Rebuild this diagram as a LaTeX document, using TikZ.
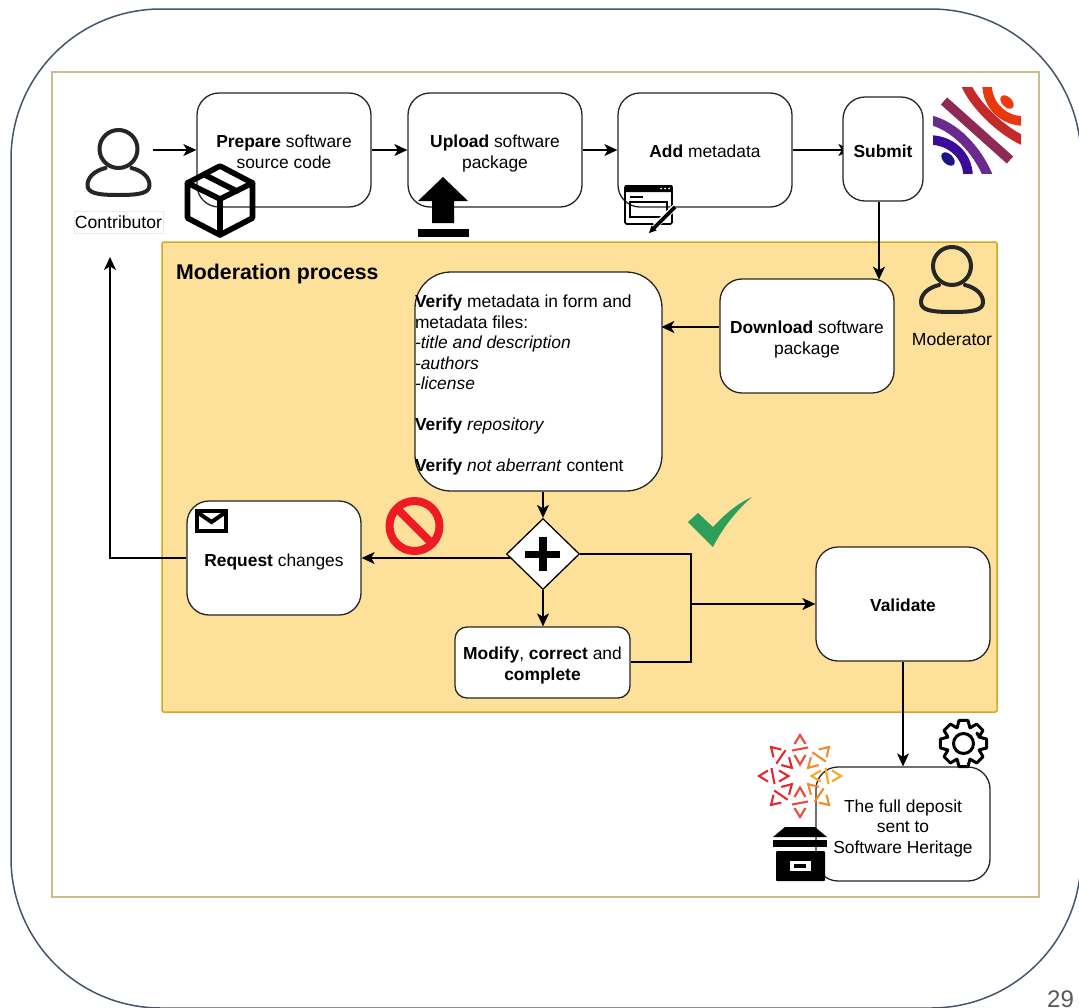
\documentclass[tikz,border=0pt]{standalone}
\usepackage{fontspec}
\setmainfont{Liberation Sans}
\usetikzlibrary{arrows.meta,shapes.geometric}
\pgfdeclarelayer{bg}
\pgfsetlayers{bg,main}
\definecolor{panelfill}{HTML}{FDE19A}
\definecolor{paneledge}{HTML}{D9A521}
\definecolor{frameedge}{HTML}{CDBB8F}
\definecolor{outeredge}{HTML}{44546A}
\definecolor{okgreen}{HTML}{2E9E5B}
\definecolor{nored}{HTML}{ED1C24}
\tikzset{
  box/.style={draw=black!85,fill=white,line width=1.3pt,rounded corners=22pt,inner sep=0pt,align=center,
    font=\fontsize{17.4}{20.5}\selectfont},
  conn/.style={draw=black,line width=1.3pt,-{Stealth[length=13pt,width=12pt,inset=3.5pt]}},
  line/.style={draw=black,line width=1.3pt},
  icon/.style={draw=black,line width=4pt,line join=round,line cap=round},
  chev/.style={line width=2.1pt},
  lbl/.style={inner sep=0pt,font=\fontsize{17.6}{20}\selectfont},
}
% a taller first line moves the text of a box down without moving its border
\newcommand{\drp}[1]{\rule{0pt}{#1pt}}
\newcommand{\personicon}[3]{%
  \begin{scope}[shift={(#1,#2)}]
    \draw[icon,black!85] (-13,19) .. controls (-25,22) and (-31,29) .. (-31,36) .. controls (-31,44) and (-22,46) .. (0,46)
       .. controls (22,46) and (31,44) .. (31,36) .. controls (31,29) and (25,22) .. (13,19);
    \draw[icon,black!85,fill=#3] (0,0) circle [radius=19];
  \end{scope}}
\begin{document}
\begin{tikzpicture}[x=1pt,y=-1pt]
\useasboundingbox (0,0) rectangle (1079,1007);
% process boxes
\node[box,minimum width=174pt,minimum height=114pt] (prep) at (284,150) {\drp{16}\textbf{Prepare} software\\source code};
\node[box,minimum width=174pt,minimum height=114pt] (upl) at (495,150) {\drp{20}\textbf{Upload} software\\package};
\node[box,minimum width=174pt,minimum height=114pt] (add) at (705,150) {\drp{16}\textbf{Add} metadata};
\node[box,minimum width=80pt,minimum height=104pt] (sub) at (883,149) {\drp{18}\textbf{Submit}};
\node[box,minimum width=174pt,minimum height=114pt] (down) at (807,336) {\drp{20}\textbf{Download} software\\package};
\node[box,rounded corners=36pt,minimum width=247pt,minimum height=219pt,text width=247pt,align=flush left] (ver) at (538.5,381.5) {%
\drp{20}\textbf{Verify} metadata in form and\\metadata files:\\\textit{-title and description}\\\textit{-authors}\\\textit{-license}\\[20.5pt]\textbf{Verify} \textit{repository}\\[20.5pt]\textbf{Verify} \textit{not aberrant} content};
\node[diamond,draw=black,fill=white,line width=1.3pt,inner sep=0pt,minimum width=73pt,minimum height=71pt] (dia) at (543,554) {};
\node[box,minimum width=174pt,minimum height=114pt] (req) at (274,558) {\drp{20}\textbf{Request} changes};
\node[box,rounded corners=12pt,minimum width=175pt,minimum height=71pt] (mod) at (542.5,662.5) {\drp{19}\textbf{Modify}, \textbf{correct} and\\\textbf{complete}};
\node[box,minimum width=174pt,minimum height=114pt] (val) at (903,604) {\drp{16}\textbf{Validate}};
\node[box,minimum width=174pt,minimum height=114pt] (full) at (903,824) {\drp{21}The full deposit\\sent to\\Software Heritage};
% labels
\node[lbl,anchor=west,font=\fontsize{21.3}{24}\selectfont\bfseries] (modt) at (176,274) {Moderation process};
\node[lbl,draw=black!8,line width=0.5pt,fill=white,minimum width=89pt,minimum height=22pt] (contr) at (118.5,222) {Contributor};
\node[lbl] (modr) at (952,339) {Moderator};
\node[inner sep=0pt,anchor=base,text=black!65,font=\fontsize{24}{26}\selectfont] (pg) at (1060.5,1007) {29};
\coordinate (c0) at (153,150);
\coordinate (ctop) at (110,257);
\coordinate (ccor) at (110,558);
\coordinate (jn) at (691,604);
\coordinate (a) at (691,554);
\coordinate (b) at (691,662);
\begin{pgfonlayer}{bg}
  \begin{scope}
    \clip (0,0) rectangle (1079,1007);
    \draw[outeredge,line width=1.5pt,rounded corners=150pt] (11,9) rectangle (1081,1008);
  \end{scope}
  \draw[frameedge,line width=1.6pt,fill=white] (52,72) rectangle (1039,897);
  \draw[paneledge,line width=1.5pt,fill=panelfill,rounded corners=1.5pt] (162,242) rectangle (997,712);
  \draw[conn] (c0) -- (prep.west);
  \draw[conn] (prep.east) -- (upl.west);
  \draw[conn] (upl.east) -- (add.west);
  \draw[conn,shorten >=-9pt] (add.east) -- (sub.west |- add.east);
  \draw[conn] ([xshift=-4pt]sub.south) -- ++(0,78);
  \draw[conn] ([yshift=9pt]down.west) -- ++(-58,0);
  \draw[conn] (ver.south -| dia.north) -- (dia.north);
  \draw[conn] (req.east -| dia.west) ++(4,0) -- (req.east);
  \draw[conn] (req.west) -- (ccor) -- (ctop);
  \draw[conn] (dia.south) -- (mod.north -| dia.south);
  \draw[line] (dia.east) -- (a) -- (b) -- (mod.east |- b);
  \draw[conn] (jn) -- (val.west |- jn);
  \draw[conn] (val.south) -- (full.north);
\end{pgfonlayer}
% people
\personicon{118.5}{149}{white}
\personicon{952}{266}{panelfill}
% package icon
\begin{scope}[line width=5.6pt,line join=round,line cap=round]
  \draw[black] (220,166) -- (252.5,183) -- (252.5,218) -- (220,235) -- (187.5,218) -- (187.5,183) -- cycle;
  \draw[black] (187.5,183) -- (220,199) -- (252.5,183);
  \draw[black] (220,199) -- (220,235);
  \draw[black] (204,174.5) -- (236.5,191);
\end{scope}
% upload icon
\fill[black] (443,177) -- (468,201) -- (454,201) -- (454,223) -- (432,223) -- (432,201) -- (418,201) -- cycle;
\fill[black] (417.5,229) rectangle (469,236.5);
% form icon
\draw[black,line width=1.7pt,rounded corners=1.5pt,fill=none] (625,186) rectangle (672,224);
\fill[black,rounded corners=1pt] (624.5,185) rectangle (672.5,192);
\fill[white] (661,188.5) circle [radius=1] (665,188.5) circle [radius=1] (669,188.5) circle [radius=1];
\draw[black,line width=1.4pt] (630,197) -- (643,197);
\draw[black,line width=1.5pt] (630,202) rectangle (667,217);
\draw[white,line width=6pt] (655,226) -- (675,207);
\draw[black,line width=3.6pt] (654,228) -- (675,207);
\fill[black] (649,233) -- (651.5,225.5) -- (656.5,230.5) -- cycle;
% HAL logo
\begin{scope}
  \clip (977,130) circle [radius=47];
  \clip (933,87) rectangle (1021,173);
  \begin{scope}[line width=9.5pt]
    \fill[color={rgb,255:red,240;green,56;blue,13},rotate around={-45:(1007,102)}] (1007,102) ellipse [x radius=8,y radius=5];
    \draw[color={rgb,255:red,233;green,56;blue,13}] (987,84) .. controls (987,105) and (1003,121) .. (1024,121);
    \draw[color={rgb,255:red,196;green,42;blue,42}] (966,85) .. controls (975,105) and (1000,130) .. (1024,141);
    \draw[color={rgb,255:red,142;green,42;blue,85}] (944,101) -- (1010,160);
    \draw[color={rgb,255:red,107;green,42;blue,142}] (930,120) .. controls (955,126) and (977,150) .. (988,176);
    \draw[color={rgb,255:red,59;green,10;blue,154}] (930,140) .. controls (950,140) and (968,155) .. (968,176);
    \fill[color={rgb,255:red,26;green,20;blue,138},rotate around={-45:(948,159)}] (948,159) ellipse [x radius=8,y radius=5];
  \end{scope}
\end{scope}
% prohibition sign
\draw[nored,line width=8pt] (414.5,526) circle [radius=25];
\draw[nored,line width=8pt] (396.8,508.3) -- (432.2,543.7);
% check mark
\fill[okgreen] (688,522) -- (698,513) -- (713,527) .. controls (725,514) and (738,503) .. (752,497) .. controls (737,510) and (723,527) .. (713,547) -- cycle;
% plus
\fill[black] (525,550.5) rectangle (560,558);
\fill[black] (539,537) rectangle (547,571);
% envelope
\draw[black,line width=3.8pt,line join=miter] (196.9,510.9) rectangle (226.1,531.1);
\draw[black,line width=4pt,line join=miter] (197,512) -- (211.5,522) -- (226,512);
% gear
\begin{scope}[shift={(963.5,743.5)}]
  \draw[black,line width=3pt,line join=round,fill=white]
    (-38:17) \foreach \a in {0,45,...,315} { -- (\a-22:17) -- (\a-11:23.5) -- (\a+11:23.5) -- (\a+22:17) } -- cycle;
  \draw[black,line width=3pt] (0,0) circle [radius=10];
\end{scope}
% Software Heritage logo
\foreach \ang/\col in {0/F9A826,45/F58A2C,90/EE4B37,135/E8262D,180/E8262D,225/E8262D,270/EE4B37,315/F58A2C}{
  \definecolor{armcol}{HTML}{\col}
  \begin{scope}[shift={(800,776)},rotate=\ang,armcol,chev]
    \draw (32,-5.5) -- (41,0) -- (32,5.5);
    \draw (25.5,-8) -- (28.5,8);
    \draw (21,-5.5) -- (11.5,0) -- (21,5.5);
  \end{scope}
}
% archive icon
\fill[black] (785,827) -- (815,827) -- (827,837) -- (773,837) -- cycle;
\fill[black] (773,840) rectangle (827,847);
\fill[black,rounded corners=1pt] (776,851) rectangle (825,881);
\fill[white] (790,861) rectangle (811,871);
\fill[black] (794,864) rectangle (806,867.5);
\end{tikzpicture}
\end{document}
